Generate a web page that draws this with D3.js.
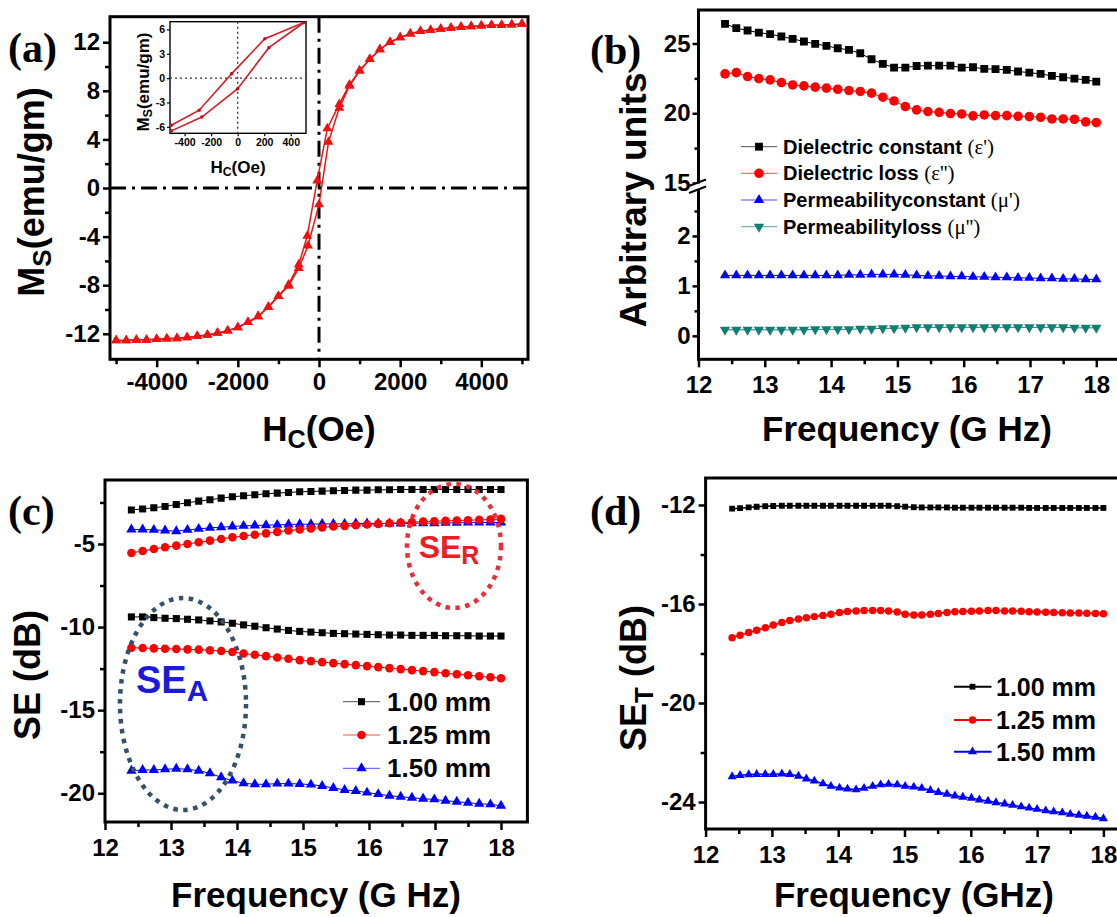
<!DOCTYPE html>
<html><head><meta charset="utf-8">
<script src="https://cdn.jsdelivr.net/npm/d3@7"></script>
<style>
body{margin:0;background:#fff;}
svg{display:block;}
</style></head><body>
<svg id="chart" width="1117" height="917"></svg>
<script>
// ---------------- Panel (a): hysteresis loop ----------------
const hcDescending = [5000,4750,4500,4250,4000,3750,3500,3250,3000,2750,2500,2250,2000,1750,1500,1250,1000,750,500,205,-45,-290,-500,-750,-1000,-1250,-1500,-1750,-2000,-2250,-2500,-2750,-3000,-3250,-3500,-3750,-4000,-4250,-4500,-4750,-5000];
const msDescending = [13.5,13.44,13.4,13.4,13.36,13.3,13.25,13.17,13.1,13.0,12.9,12.7,12.4,12.0,11.4,10.6,9.65,8.5,6.9,4.9,0.6,-3.95,-6.3,-7.95,-8.9,-9.8,-10.56,-11.05,-11.47,-11.74,-11.93,-12.1,-12.2,-12.3,-12.37,-12.4,-12.45,-12.5,-12.5,-12.55,-12.55];
const hcAscending = [-5000,-4750,-4500,-4250,-4000,-3750,-3500,-3250,-3000,-2750,-2500,-2250,-2000,-1750,-1500,-1250,-1000,-750,-500,-270,0,235,500,750,1000,1250,1500,1750,2000,2250,2500,2750,3000,3250,3500,3750,4000,4250,4500,4750,5000];
const msAscending = [-12.55,-12.55,-12.5,-12.5,-12.45,-12.4,-12.37,-12.3,-12.2,-12.1,-11.93,-11.74,-11.47,-11.05,-10.56,-9.8,-8.9,-8.05,-6.6,-4.75,-1.35,3.8,6.6,8.4,9.65,10.6,11.4,12.0,12.4,12.7,12.9,13.0,13.1,13.17,13.25,13.3,13.36,13.4,13.4,13.44,13.5];
const hcTicksA = [-4000,-2000,0,2000,4000];
const msTicksA = [-12,-8,-4,0,4,8,12];
// inset
const insetHcUpper = [-500,-290,-45,205,500];
const insetMsUpper = [-5.8,-3.95,0.55,4.85,6.85];
const insetHcLower = [-500,-270,0,235,500];
const insetMsLower = [-6.5,-4.8,-1.3,3.75,6.85];
const insetHcTicks = [-400,-200,0,200,400];
const insetMsTicks = [-6,-3,0,3,6];

// ---------------- Panel (b): permittivity / permeability ----------------
const freqKu = [12.40,12.57,12.74,12.91,13.08,13.25,13.42,13.59,13.76,13.93,14.10,14.27,14.44,14.61,14.78,14.95,15.12,15.29,15.46,15.63,15.80,15.97,16.14,16.31,16.48,16.65,16.82,16.99,17.16,17.33,17.50,17.67,17.84,18.00];
const epsReal = [26.41,26.1,25.93,25.78,25.67,25.5,25.33,25.14,24.97,24.83,24.66,24.54,24.3,23.87,23.54,23.27,23.27,23.39,23.41,23.41,23.41,23.27,23.3,23.18,23.16,23.11,22.99,22.91,22.82,22.68,22.58,22.48,22.39,22.27];
const epsImag = [22.82,22.91,22.63,22.48,22.39,22.2,22.03,21.96,21.87,21.8,21.72,21.63,21.56,21.44,21.15,20.88,20.48,20.24,20.12,20.07,19.98,19.95,19.81,19.88,19.83,19.83,19.78,19.76,19.71,19.59,19.59,19.57,19.38,19.33];
const muReal = [1.21,1.21,1.21,1.21,1.21,1.21,1.21,1.21,1.21,1.21,1.21,1.22,1.22,1.23,1.23,1.23,1.22,1.21,1.2,1.2,1.19,1.19,1.18,1.18,1.17,1.17,1.16,1.16,1.15,1.15,1.14,1.14,1.13,1.13];
const muImag = [0.12,0.12,0.12,0.12,0.12,0.12,0.12,0.12,0.13,0.13,0.13,0.13,0.14,0.14,0.15,0.15,0.16,0.17,0.17,0.17,0.17,0.17,0.17,0.17,0.17,0.17,0.17,0.17,0.17,0.17,0.17,0.16,0.16,0.16];
const freqTicks = [12,13,14,15,16,17,18];
const bUpperTicks = [15,20,25];
const bLowerTicks = [0,1,2];
const bLegend = [["Dielectric constant ","(ε')"],["Dielectric loss ","(ε'')"],["Permeabilityconstant ","(μ')"],["Permeabilityloss ","(μ'')"]];

// ---------------- Panel (c): SE_R and SE_A ----------------
const seR100 = [-2.95,-2.89,-2.82,-2.74,-2.62,-2.52,-2.42,-2.34,-2.24,-2.16,-2.1,-2.04,-1.98,-1.94,-1.9,-1.86,-1.84,-1.82,-1.8,-1.78,-1.76,-1.76,-1.74,-1.74,-1.72,-1.72,-1.72,-1.72,-1.72,-1.72,-1.72,-1.72,-1.72,-1.72];
const seR125 = [-5.54,-5.42,-5.3,-5.2,-5.1,-5.0,-4.9,-4.8,-4.7,-4.6,-4.52,-4.44,-4.36,-4.27,-4.19,-4.13,-4.07,-4.01,-3.95,-3.91,-3.87,-3.83,-3.79,-3.75,-3.71,-3.69,-3.65,-3.63,-3.61,-3.59,-3.57,-3.55,-3.53,-3.49];
const seR150 = [-4.13,-4.13,-4.15,-4.19,-4.23,-4.15,-4.09,-4.03,-3.99,-3.95,-3.91,-3.89,-3.87,-3.85,-3.83,-3.81,-3.81,-3.79,-3.79,-3.79,-3.77,-3.77,-3.77,-3.77,-3.77,-3.75,-3.75,-3.75,-3.73,-3.73,-3.71,-3.71,-3.71,-3.71];
const seA100 = [-9.39,-9.39,-9.43,-9.47,-9.49,-9.53,-9.57,-9.63,-9.69,-9.77,-9.87,-9.95,-10.04,-10.12,-10.2,-10.26,-10.3,-10.34,-10.38,-10.4,-10.42,-10.44,-10.46,-10.48,-10.48,-10.5,-10.5,-10.5,-10.52,-10.52,-10.52,-10.54,-10.54,-10.54];
const seA125 = [-11.24,-11.26,-11.28,-11.3,-11.32,-11.34,-11.36,-11.4,-11.44,-11.5,-11.59,-11.67,-11.75,-11.83,-11.91,-11.99,-12.05,-12.11,-12.17,-12.23,-12.29,-12.35,-12.41,-12.47,-12.53,-12.59,-12.65,-12.71,-12.78,-12.84,-12.9,-12.96,-13.02,-13.08];
const seA150 = [-18.64,-18.6,-18.6,-18.56,-18.52,-18.56,-18.64,-18.8,-19.04,-19.24,-19.4,-19.46,-19.46,-19.42,-19.42,-19.44,-19.48,-19.56,-19.68,-19.8,-19.86,-19.96,-20.05,-20.15,-20.21,-20.27,-20.33,-20.37,-20.45,-20.51,-20.57,-20.63,-20.67,-20.75];
const seTicksC = [-5,-10,-15,-20];
const thicknessLabels = ["1.00 mm","1.25 mm","1.50 mm"];

// ---------------- Panel (d): SE_T ----------------
const freqD = [12.40,12.52,12.65,12.77,12.90,13.02,13.15,13.27,13.40,13.52,13.64,13.77,13.89,14.02,14.14,14.27,14.39,14.52,14.64,14.76,14.89,15.01,15.14,15.26,15.39,15.51,15.64,15.76,15.88,16.01,16.13,16.26,16.38,16.51,16.63,16.76,16.88,17.00,17.13,17.25,17.38,17.50,17.63,17.75,17.88,18.00];
const seT100 = [-12.15,-12.13,-12.1,-12.07,-12.05,-12.04,-12.03,-12.03,-12.03,-12.03,-12.03,-12.03,-12.03,-12.03,-12.03,-12.03,-12.03,-12.03,-12.03,-12.03,-12.05,-12.07,-12.09,-12.1,-12.1,-12.1,-12.1,-12.11,-12.11,-12.11,-12.11,-12.11,-12.11,-12.11,-12.11,-12.11,-12.12,-12.12,-12.12,-12.12,-12.12,-12.12,-12.12,-12.12,-12.12,-12.12];
const seT125 = [-17.36,-17.26,-17.15,-17.06,-16.96,-16.85,-16.75,-16.67,-16.61,-16.56,-16.51,-16.46,-16.41,-16.34,-16.3,-16.28,-16.26,-16.26,-16.26,-16.28,-16.32,-16.41,-16.44,-16.44,-16.41,-16.38,-16.34,-16.31,-16.3,-16.29,-16.28,-16.26,-16.26,-16.28,-16.28,-16.29,-16.31,-16.32,-16.33,-16.34,-16.35,-16.36,-16.36,-16.37,-16.38,-16.39];
const seT150 = [-22.97,-22.92,-22.89,-22.88,-22.88,-22.88,-22.86,-22.88,-22.95,-23.06,-23.15,-23.26,-23.36,-23.43,-23.47,-23.5,-23.44,-23.36,-23.3,-23.28,-23.3,-23.36,-23.39,-23.44,-23.53,-23.61,-23.68,-23.75,-23.8,-23.84,-23.91,-23.96,-24.02,-24.07,-24.13,-24.19,-24.24,-24.29,-24.35,-24.39,-24.43,-24.49,-24.53,-24.57,-24.61,-24.67];
const seTicksD = [-12,-16,-20,-24];

// ---------------- helpers ----------------
const SANS = "'Liberation Sans', Arial, Helvetica, sans-serif";
const SERIF = "'Liberation Serif', 'Times New Roman', serif";
const BLACK = "#000000", RED = "#ff0000", BLUE = "#0000ff", TEAL = "#0f7f74";
const svg = d3.select("#chart");
svg.append("rect").attr("width",1117).attr("height",917).attr("fill","#fff");

const symTypes = {square:d3.symbolSquare, circle:d3.symbolCircle, triangle:d3.symbolTriangle, triangleDown:d3.symbolTriangle};
function markers(g, xs, ys, x, y, type, size, color) {
  const p = d3.symbol().type(symTypes[type]).size(size)();
  g.selectAll(null).data(xs.map((d,i)=>[d,ys[i]])).join("path")
    .attr("d", p)
    .attr("transform", d => `translate(${x(d[0])},${y(d[1])})` + (type==="triangleDown" ? " rotate(180)" : ""))
    .attr("fill", color);
}
function line(g, xs, ys, x, y, color, w) {
  g.append("path").datum(xs.map((d,i)=>[d,ys[i]]))
    .attr("d", d3.line().x(d=>x(d[0])).y(d=>y(d[1])))
    .attr("fill","none").attr("stroke",color).attr("stroke-width",w);
}
function axis(g, orient, scale, pos, majors, minors, o) {
  const gen = orient==="left" ? d3.axisLeft : d3.axisBottom;
  const t = orient==="left" ? `translate(${pos},0)` : `translate(0,${pos})`;
  const gm = g.append("g").attr("transform", t)
    .call(gen(scale).tickValues(majors).tickSize(o.len).tickPadding(o.pad).tickFormat(d=>String(d)));
  gm.select(".domain").remove();
  gm.selectAll(".tick line").attr("stroke","#000").attr("stroke-width",o.tw);
  gm.selectAll(".tick text").attr("fill","#000")
    .style("font-family",SANS).style("font-weight","bold").style("font-size",o.fs+"px");
  if (minors && minors.length) {
    const gn = g.append("g").attr("transform", t)
      .call(gen(scale).tickValues(minors).tickSize(o.mlen).tickFormat(""));
    gn.select(".domain").remove();
    gn.selectAll(".tick line").attr("stroke","#000").attr("stroke-width",o.tw);
  }
}
function frame(g, x0, y0, x1, y1, w) {
  g.append("rect").attr("x",x0).attr("y",y0).attr("width",x1-x0).attr("height",y1-y0)
    .attr("fill","none").attr("stroke","#000").attr("stroke-width",w);
}
function rich(g, x, y, size, parts, opts={}) {
  const t = g.append("text").attr("x",x).attr("y",y).attr("text-anchor",opts.anchor||"middle")
    .attr("fill",opts.color||"#000").style("font-family",opts.family||SANS)
    .style("font-weight",opts.weight||"bold").style("font-size",size+"px");
  if (opts.rotate) t.attr("transform",`rotate(${opts.rotate},${x},${y})`);
  let shift = 0;
  parts.forEach(p => {
    const ts = t.append("tspan").text(p.t);
    if (p.sub) {
      ts.style("font-size",(size*p.sub)+"px");
      const d = size*0.2; ts.attr("dy", d - shift); shift = d;
    } else if (shift) { ts.attr("dy", -shift); shift = 0; }
    if (p.family) ts.style("font-family",p.family);
    if (p.weight) ts.style("font-weight",p.weight);
  });
  return t;
}
function clip(id, x0, y0, x1, y1) {
  svg.append("clipPath").attr("id",id).append("rect")
    .attr("x",x0).attr("y",y0).attr("width",x1-x0).attr("height",y1-y0);
  return svg.append("g").attr("clip-path",`url(#${id})`);
}

// ================= Panel (a) =================
{
  const x = d3.scaleLinear([-5150,5150],[110,528]);
  const y = d3.scaleLinear([-14.1,14.1],[359.3,16.7]);
  const g = svg.append("g");
  const o = {len:8,pad:6,tw:2.5,fs:24,mlen:5};
  axis(g,"bottom",x,359.3,hcTicksA,[-5000,-3000,-1000,1000,3000,5000],o);
  axis(g,"left",y,110,msTicksA,[-10,-6,-2,2,6,10],{len:7,pad:3,tw:2.5,fs:24,mlen:5});
  const gc = clip("clipA",110,16.7,528,359.3);
  // dash-dot reference lines
  gc.append("line").attr("x1",110).attr("x2",528).attr("y1",y(0)).attr("y2",y(0))
    .attr("stroke","#000").attr("stroke-width",3).attr("stroke-dasharray","16,6,3,6");
  gc.append("line").attr("x1",x(0)).attr("x2",x(0)).attr("y1",16.7).attr("y2",359.3)
    .attr("stroke","#000").attr("stroke-width",3).attr("stroke-dasharray","16,6,3,6");
  line(gc,hcDescending,msDescending,x,y,"#e81515",1.5);
  line(gc,hcAscending,msAscending,x,y,"#e81515",1.5);
  markers(gc,hcDescending,msDescending,x,y,"triangle",42,"#ee1111");
  markers(gc,hcAscending,msAscending,x,y,"triangle",42,"#ee1111");
  frame(g,110,16.7,528,359.3,3);

  // inset
  const xi = d3.scaleLinear([-510,515],[170,306]);
  const yi = d3.scaleLinear([-6.8,6.95],[133.3,21.7]);
  const gi = svg.append("g");
  gi.append("rect").attr("x",170).attr("y",21.7).attr("width",136).attr("height",111.6).attr("fill","#fff");
  const oi = {len:3,pad:2,tw:1.2,fs:10.5,mlen:2};
  axis(gi,"bottom",xi,133.3,insetHcTicks,[],oi);
  axis(gi,"left",yi,170,insetMsTicks,[],oi);
  const gic = clip("clipI",170,21.7,306,133.3);
  gic.append("line").attr("x1",170).attr("x2",306).attr("y1",yi(0)).attr("y2",yi(0))
    .attr("stroke","#333").attr("stroke-width",1.3).attr("stroke-dasharray","2,3");
  gic.append("line").attr("x1",xi(0)).attr("x2",xi(0)).attr("y1",21.7).attr("y2",133.3)
    .attr("stroke","#333").attr("stroke-width",1.3).attr("stroke-dasharray","2,3");
  line(gic,insetHcUpper,insetMsUpper,xi,yi,"#d41e2a",1.6);
  line(gic,insetHcLower,insetMsLower,xi,yi,"#d41e2a",1.6);
  markers(gic,insetHcUpper,insetMsUpper,xi,yi,"circle",10,"#c01020");
  markers(gic,insetHcLower,insetMsLower,xi,yi,"circle",10,"#c01020");
  frame(gi,170,21.7,306,133.3,1.4);
  rich(gi,149,82,17,[{t:"M"},{t:"S",sub:0.72},{t:"(emu/gm)"}],{rotate:-90});
  rich(gi,238,173,17,[{t:"H"},{t:"C",sub:0.72},{t:"(Oe)"}]);

  rich(svg,319,441,35,[{t:"H"},{t:"C",sub:0.72},{t:"(Oe)"}]);
  rich(svg,44,192,36,[{t:"M"},{t:"S",sub:0.72},{t:"(emu/gm)"}],{rotate:-90});
  rich(svg,8,62,42,[{t:"(a)"}],{anchor:"start",family:SERIF});
}

// ================= Panel (b) =================
{
  const x = d3.scaleLinear([12,18.35],[698.5,1119.5]);
  const yU = d3.scaleLinear([15,27.4],[183,10]);
  const yL = d3.scaleLinear([-0.47,2.92],[359.3,190]);
  const g = svg.append("g");
  const o = {len:8,pad:9,tw:2.5,fs:24,mlen:5};
  axis(g,"bottom",x,359.3,freqTicks,[12.5,13.5,14.5,15.5,16.5,17.5],o);
  const oy = {len:6,pad:2,tw:2.5,fs:24,mlen:4};
  axis(g,"left",yU,698.5,bUpperTicks,[17.5,22.5],oy);
  axis(g,"left",yL,698.5,bLowerTicks,[0.5,1.5,2.5],oy);
  const gc = clip("clipB",698.5,10,1117,359.3);
  const series = [
    [epsReal,yU,BLACK,"square",62],
    [epsImag,yU,RED,"circle",72],
    [muReal,yL,BLUE,"triangle",46],
    [muImag,yL,TEAL,"triangleDown",46]
  ];
  series.forEach(s => { line(gc,freqKu,s[0],x,s[1],s[2],1); markers(gc,freqKu,s[0],x,s[1],s[3],s[4],s[2]); });
  frame(g,698.5,10,1125,359.3,3);
  // axis break
  g.append("rect").attr("x",693).attr("y",183.5).attr("width",11).attr("height",6.5).attr("fill","#fff");
  g.append("line").attr("x1",689).attr("y1",186).attr("x2",706).attr("y2",179.5).attr("stroke","#000").attr("stroke-width",2);
  g.append("line").attr("x1",689).attr("y1",193).attr("x2",706).attr("y2",186.5).attr("stroke","#000").attr("stroke-width",2);
  // legend
  const ly = [146.7,173.3,200,226.7];
  bLegend.forEach((lab,i) => {
    const s = series[i];
    g.append("line").attr("x1",741).attr("x2",777).attr("y1",ly[i]).attr("y2",ly[i]).attr("stroke",s[2]).attr("stroke-width",1).attr("opacity",0.7);
    markers(g,[0],[0],()=>759,()=>ly[i],s[3],s[4],s[2]);
    const t = g.append("text").attr("x",783).attr("y",ly[i]+7).attr("fill","#000")
      .style("font-family",SANS).style("font-weight","bold").style("font-size","20px");
    t.append("tspan").text(lab[0]);
    t.append("tspan").text(lab[1]).style("font-family",SERIF).style("font-weight","normal").style("font-size","21px");
  });
  rich(svg,907,441,35,[{t:"Frequency (G Hz)"}]);
  rich(svg,646,200,37,[{t:"Arbitrary units"}],{rotate:-90});
  rich(svg,590,64,42,[{t:"(b)"}],{anchor:"start",family:SERIF});
}

// ================= Panel (c) =================
{
  const x = d3.scaleLinear([12,18.4],[105,527.4]);
  const y = d3.scaleLinear([-21.73,-1.15],[822,480]);
  const g = svg.append("g");
  axis(g,"bottom",x,822,freqTicks,[12.5,13.5,14.5,15.5,16.5,17.5],{len:8,pad:9,tw:2.5,fs:24,mlen:5});
  axis(g,"left",y,105,seTicksC,[-2.5,-7.5,-12.5,-17.5],{len:7,pad:3,tw:2.5,fs:24,mlen:5});
  const gc = clip("clipC",105,480,527.4,822);
  const series = [
    [seR100,BLACK,"square",50],[seR150,BLUE,"triangle",46],[seR125,RED,"circle",58],
    [seA100,BLACK,"square",50],[seA125,RED,"circle",58],[seA150,BLUE,"triangle",46]
  ];
  series.forEach(s => { line(gc,freqKu,s[0],x,y,s[1],1); markers(gc,freqKu,s[0],x,y,s[2],s[3],s[1]); });
  // annotation ellipses
  gc.append("ellipse").attr("cx",454).attr("cy",546).attr("rx",47).attr("ry",62)
    .attr("fill","none").attr("stroke","#e8303a").attr("stroke-width",4.5).attr("stroke-dasharray","4.5,5.5");
  gc.append("ellipse").attr("cx",183).attr("cy",704).attr("rx",63).attr("ry",106)
    .attr("fill","none").attr("stroke","#34506b").attr("stroke-width",4.5).attr("stroke-dasharray","4.5,5.5");
  rich(g,449,558,32,[{t:"SE"},{t:"R",sub:0.78}],{color:"#ee1c25"});
  rich(g,172,693,38,[{t:"SE"},{t:"A",sub:0.78}],{color:"#1a1ae0"});
  frame(g,105,480,527.4,822,3);
  // legend
  const ly = [701.7,735,768.3];
  const legS = [[BLACK,"square",50],[RED,"circle",58],[BLUE,"triangle",46]];
  thicknessLabels.forEach((lab,i) => {
    g.append("line").attr("x1",343).attr("x2",380).attr("y1",ly[i]).attr("y2",ly[i]).attr("stroke",legS[i][0]).attr("stroke-width",1).attr("opacity",0.7);
    markers(g,[0],[0],()=>361.5,()=>ly[i],legS[i][1],legS[i][2],legS[i][0]);
    g.append("text").attr("x",387).attr("y",ly[i]+9).attr("fill","#000")
      .style("font-family",SANS).style("font-weight","bold").style("font-size","26px").text(lab);
  });
  rich(svg,316,907,35,[{t:"Frequency (G Hz)"}]);
  rich(svg,40,675,36,[{t:"SE (dB)"}],{rotate:-90});
  rich(svg,8,525,42,[{t:"(c)"}],{anchor:"start",family:SERIF});
}

// ================= Panel (d) =================
{
  const x = d3.scaleLinear([12,18.3],[705.6,1123.3]);
  const y = d3.scaleLinear([-25.09,-10.91],[829,478]);
  const g = svg.append("g");
  axis(g,"bottom",x,829,freqTicks,[12.5,13.5,14.5,15.5,16.5,17.5],{len:8,pad:9,tw:2.5,fs:24,mlen:5});
  axis(g,"left",y,705.6,seTicksD,[-14,-18,-22],{len:7,pad:3,tw:2.5,fs:24,mlen:5});
  const gc = clip("clipD",705.6,478,1117,829);
  const series = [[seT100,BLACK,"square",34],[seT125,RED,"circle",44],[seT150,BLUE,"triangle",36]];
  series.forEach(s => { line(gc,freqD,s[0],x,y,s[1],1.6); markers(gc,freqD,s[0],x,y,s[2],s[3],s[1]); });
  frame(g,705.6,478,1125,829,3);
  const ly = [686.7,720,751.7];
  thicknessLabels.forEach((lab,i) => {
    const s = series[i];
    g.append("line").attr("x1",954).attr("x2",991.5).attr("y1",ly[i]).attr("y2",ly[i]).attr("stroke",s[1]).attr("stroke-width",2);
    markers(g,[0],[0],()=>972.5,()=>ly[i],s[2],s[3],s[1]);
    g.append("text").attr("x",996).attr("y",ly[i]+9).attr("fill","#000")
      .style("font-family",SANS).style("font-weight","bold").style("font-size","25px").text(lab);
  });
  rich(svg,914,907,35,[{t:"Frequency (GHz)"}]);
  rich(svg,646,678,36,[{t:"SE"},{t:"T",sub:0.72},{t:" (dB)"}],{rotate:-90});
  rich(svg,590,525,42,[{t:"(d)"}],{anchor:"start",family:SERIF});
}
</script>
</body></html>
